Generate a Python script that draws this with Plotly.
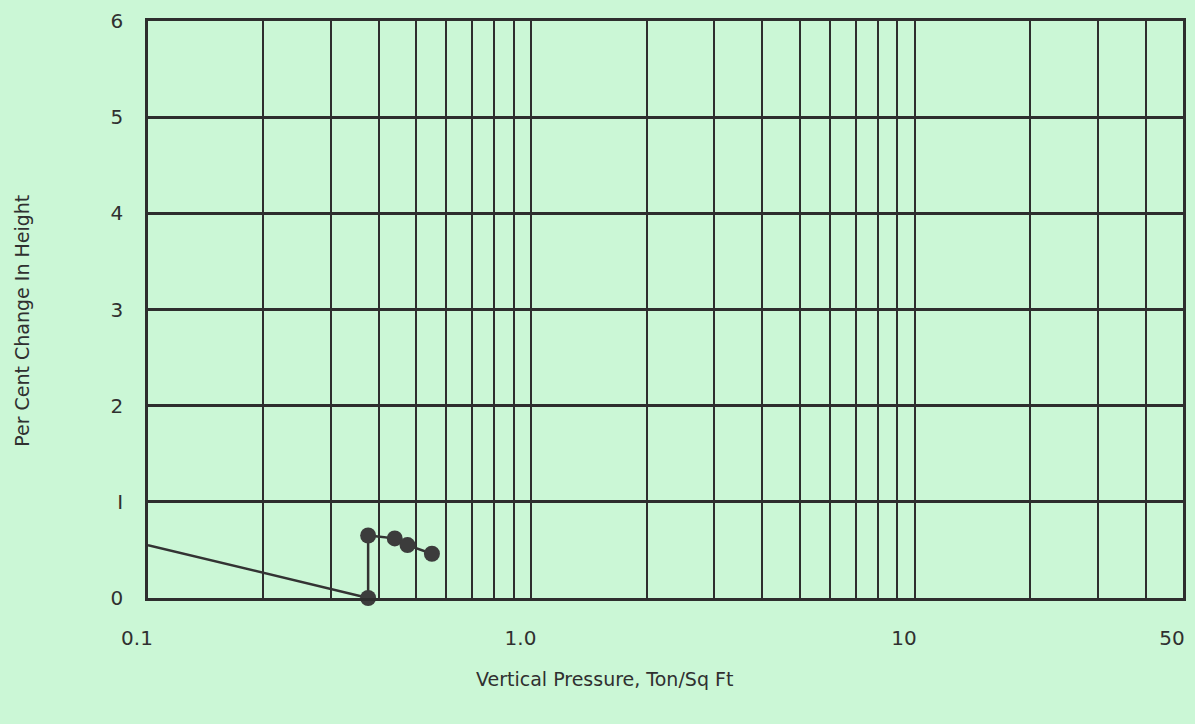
import plotly.graph_objects as go

# Data
pressure = [0.1, 0.375, 0.375, 0.44, 0.475, 0.55]      # Ton/Sq Ft
pct_change = [0.55, 0.0, 0.65, 0.62, 0.55, 0.46]      # per cent change in height
marker_sizes = [0, 16, 16, 16, 16, 16]

grid_vals = [0.1, 0.2, 0.3, 0.4, 0.5, 0.6, 0.7, 0.8, 0.9, 1.0,
             2, 3, 4, 5, 6, 7, 8, 9, 10, 20, 30, 40, 50]
labeled = {0.1: "0.1", 1.0: "1.0", 10: "10", 50: "50"}
grid_text = [labeled.get(v, "") for v in grid_vals]
y_ticks = [0, 1, 2, 3, 4, 5, 6]
y_text = ["0", "I", "2", "3", "4", "5", "6"]

bg = "#cbf7d6"
ink = "#303030"
font_family = "'DejaVu Sans', sans-serif"

fig = go.Figure()
fig.add_trace(go.Scatter(
    x=pressure, y=pct_change, mode="lines+markers",
    line=dict(color="#333333", width=2.5),
    marker=dict(size=marker_sizes, color="#3c3c3c", opacity=1, line=dict(width=0)),
    showlegend=False, cliponaxis=False,
))

fig.update_layout(
    width=1195, height=724,
    paper_bgcolor=bg, plot_bgcolor=bg,
    margin=dict(l=148, r=9, t=16, b=126),
    font=dict(family=font_family, size=20, color=ink),
    xaxis=dict(
        type="log", range=[-1, 1.69897],
        tickvals=grid_vals, ticktext=grid_text,
        showgrid=True, gridcolor="#2e2e2e", gridwidth=2,
        showline=True, linecolor="#2e2e2e", linewidth=2.5, mirror=True,
        ticks="", ticklabelstandoff=20, ticklabelshift=-11, zeroline=False,
        tickfont=dict(size=20),
    ),
    yaxis=dict(
        range=[0, 6], tickvals=y_ticks, ticktext=y_text,
        showgrid=True, gridcolor="#2e2e2e", gridwidth=2.8,
        showline=True, linecolor="#2e2e2e", linewidth=2.5, mirror=True,
        ticks="", ticklabelstandoff=18, zeroline=False,
        tickfont=dict(size=20),
    ),
    annotations=[
        dict(text="Per Cent Change In Height", xref="paper", yref="paper",
             x=-0.1214, y=0.481, textangle=-90, showarrow=False,
             font=dict(size=19, color=ink), xanchor="center", yanchor="middle"),
        dict(text="Vertical Pressure, Ton/Sq Ft", xref="paper", yref="paper",
             x=0.441, y=-0.141, showarrow=False,
             font=dict(size=19, color=ink), xanchor="center", yanchor="middle"),
    ],
)

fig.write_html(
    "out.html",
    config={"displayModeBar": False},
    post_script="document.body.style.margin='0px';document.body.style.background='" + bg + "';",
)
